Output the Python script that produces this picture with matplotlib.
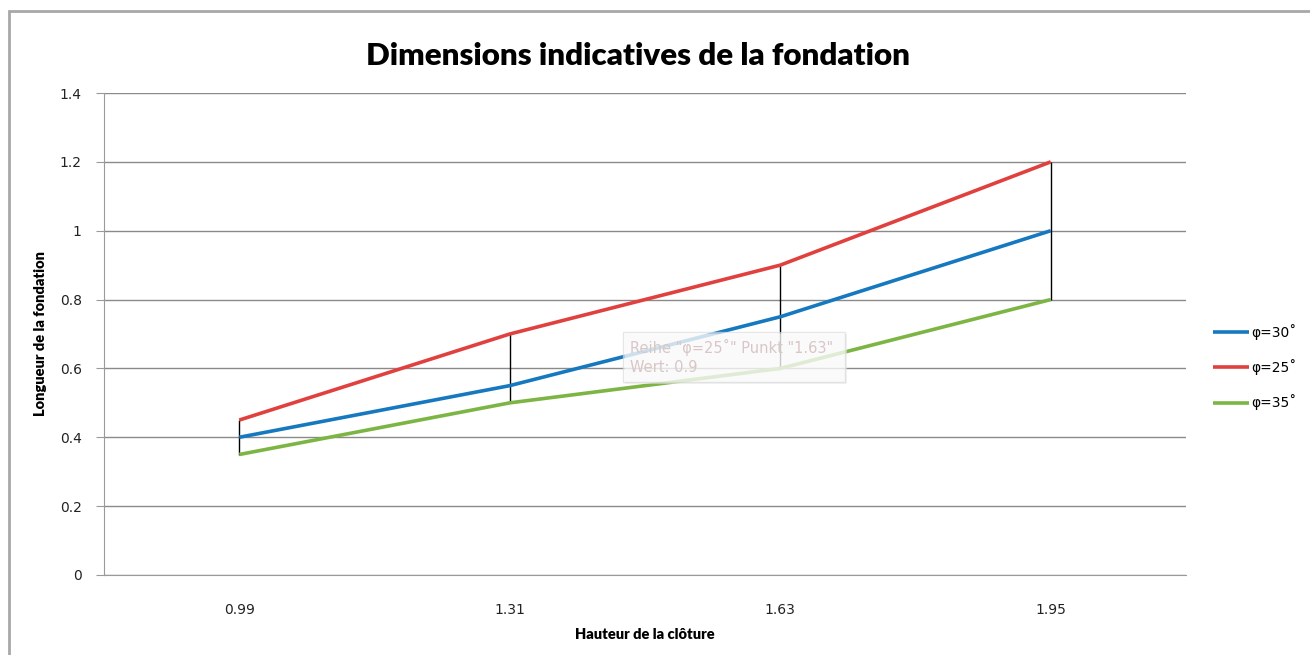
import matplotlib.pyplot as plt
from matplotlib.patches import Rectangle
import numpy as np

# données
hauteurs = ["0.99", "1.31", "1.63", "1.95"]
phi_30 = [0.4, 0.55, 0.75, 1.0]
phi_25 = [0.45, 0.7, 0.9, 1.2]
phi_35 = [0.35, 0.5, 0.6, 0.8]
y_ticks = [0, 0.2, 0.4, 0.6, 0.8, 1, 1.2, 1.4]
y_tick_labels = ["0", "0.2", "0.4", "0.6", "0.8", "1", "1.2", "1.4"]

series = [("φ=30˚", phi_30, "#1679bf"),
          ("φ=25˚", phi_25, "#e0413f"),
          ("φ=35˚", phi_35, "#7db545")]

fig = plt.figure(figsize=(13.1, 6.55), dpi=100)
ax = fig.add_axes([104 / 1310, 1 - 575 / 655, 1082 / 1310, 482 / 655])

x = np.arange(len(hauteurs)) + 0.5

# lignes haut-bas
all_vals = np.array([phi_30, phi_25, phi_35])
ax.vlines(x, all_vals.min(axis=0), all_vals.max(axis=0), color="black", lw=1, zorder=2)

for name, vals, col in series:
    ax.plot(x, vals, color=col, lw=2.6, label=name, zorder=3, solid_capstyle="butt")

ax.set_xlim(0, len(hauteurs))
ax.set_ylim(0, 1.4)
ax.set_yticks(y_ticks)
ax.set_yticklabels(y_tick_labels)
ax.set_xticks(x)
ax.set_xticklabels(hauteurs)
ax.grid(axis="y", color="#8a8a8a", lw=1)
ax.set_axisbelow(True)
for s in ["top", "right"]:
    ax.spines[s].set_visible(False)
for s in ["left", "bottom"]:
    ax.spines[s].set_color("#9a9a9a")
ax.tick_params(axis="y", length=6, color="#9a9a9a", labelsize=10, pad=10, labelcolor="#222222")
ax.tick_params(axis="x", length=0, labelsize=10, pad=20, labelcolor="#222222")

ax.set_xlabel("Hauteur de la clôture", fontfamily="Lato", fontweight="heavy", fontsize=10.5, labelpad=8)
ax.set_ylabel("Longueur de la fondation", fontfamily="Lato", fontweight="heavy", fontsize=10.5, labelpad=9)
fig.text(0.487, 1 - 56 / 655, "Dimensions indicatives de la fondation", ha="center", va="center",
         fontfamily="Lato", fontweight="heavy", fontsize=22.5)

leg = fig.legend(loc="center left", bbox_to_anchor=(1200 / 1310, 1 - 367 / 655), frameon=False,
                 fontsize=10, handlelength=2.6, handletextpad=0.2, labelspacing=1.4)

# infobulle Excel
fig.patches.append(Rectangle((625 / 1310, 1 - 384 / 655), 222 / 1310, 50 / 655, transform=fig.transFigure,
                             facecolor="#e8e8e8", edgecolor="none", alpha=0.5, zorder=5))
fig.patches.append(Rectangle((623 / 1310, 1 - 382 / 655), 222 / 1310, 50 / 655, transform=fig.transFigure,
                             facecolor="white", edgecolor="#d6d6d6", lw=1, alpha=0.6, zorder=6))
fig.text(630 / 1310, 1 - 347 / 655, 'Reihe "φ=25˚" Punkt "1.63"', color="#d9c6c6", fontsize=10.5,
         va="center", zorder=7)
fig.text(630 / 1310, 1 - 368 / 655, "Wert: 0.9", color="#d9c6c6", fontsize=10.5, va="center", zorder=7)

# cadre du graphique
fig.patches.append(Rectangle((9 / 1310, -0.05), 1.1, 1 - 11 / 655 + 0.05, transform=fig.transFigure,
                             facecolor="none", edgecolor="#a8a8a8", lw=2, zorder=1))

fig.savefig("out.png", dpi=100)
